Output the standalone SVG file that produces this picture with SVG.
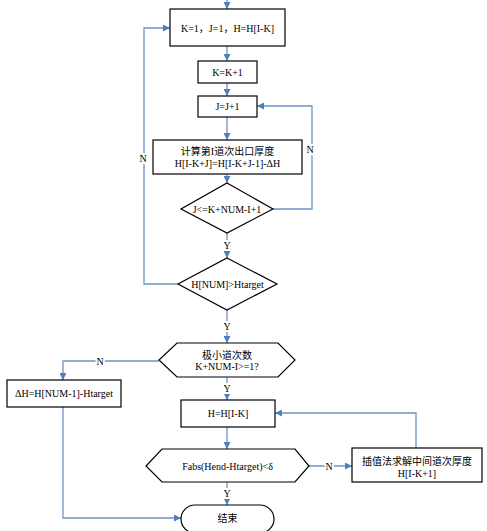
<svg xmlns="http://www.w3.org/2000/svg" width="487" height="531" viewBox="0 0 487 531">
<defs>
<marker id="ah" viewBox="0 0 10 10" refX="10" refY="5" markerWidth="7" markerHeight="7" markerUnits="userSpaceOnUse" orient="auto">
<path d="M0,0 L10,5 L0,10 z" fill="#4f7ec0"/>
</marker>
<style>
.n{fill:#fff;stroke:#000;stroke-width:1.2}
.t{font-family:"Liberation Serif","Noto Sans CJK SC",serif;font-size:10px;fill:#000;text-anchor:middle;dominant-baseline:central}
.c{fill:none;stroke:#6f93c6;stroke-width:1.3;marker-end:url(#ah)}
.l{font-family:"Liberation Serif",serif;font-size:10px;fill:#000;text-anchor:middle;dominant-baseline:central;stroke:#fff;stroke-width:4;paint-order:stroke}
</style>
</defs>
<rect width="487" height="531" fill="#fff"/>
<g id="connectors">
<path class="c" d="M227,0 V9"/>
<path class="c" d="M227,46 V61"/>
<path class="c" d="M227,83 V96"/>
<path class="c" d="M227,117 V140"/>
<path class="c" d="M227,174 V183"/>
<path class="c" d="M273,209 H312 V106 H257"/>
<path class="c" d="M227,233 V258"/>
<path class="c" d="M178,284 H144 V28 H170"/>
<path class="c" d="M227,310 V343"/>
<path class="c" d="M159,361 H63 V380"/>
<path class="c" d="M227,377 V400"/>
<path class="c" d="M227,427 V449"/>
<path class="c" d="M309,466 H352"/>
<path class="c" d="M416,448 V413 H275"/>
<path class="c" d="M227,482 V505"/>
<path class="c" d="M63,407 V518 H181"/>
<text class="l" x="310" y="149">N</text>
<text class="l" x="143" y="158">N</text>
<text class="l" x="227" y="245">Y</text>
<text class="l" x="227" y="326">Y</text>
<text class="l" x="100" y="361">N</text>
<text class="l" x="227" y="388">Y</text>
<text class="l" x="329" y="466">N</text>
<text class="l" x="227" y="493">Y</text>
</g>
<g id="init">
<rect class="n" x="170" y="9" width="115" height="37"/>
<text class="t" x="227.5" y="28">K=1，J=1，H=H[I-K]</text>
</g>
<g id="incK">
<rect class="n" x="198" y="61" width="59" height="22"/>
<text class="t" x="227.5" y="72">K=K+1</text>
</g>
<g id="incJ">
<rect class="n" x="198" y="96" width="59" height="21"/>
<text class="t" x="227.5" y="106.5">J=J+1</text>
</g>
<g id="calc">
<rect class="n" x="153" y="140" width="149" height="34"/>
<text class="t" x="227.5" y="151.5">计算第I道次出口厚度</text>
<text class="t" x="227.5" y="163.5">H[I-K+J]=H[I-K+J-1]-ΔH</text>
</g>
<g id="condJ">
<polygon class="n" points="227,183 273,209 227,233 181,209"/>
<text class="t" x="227" y="209">J&lt;=K+NUM-I+1</text>
</g>
<g id="condH">
<polygon class="n" points="227,258 277,284 227,310 178,284"/>
<text class="t" x="227.5" y="284">H[NUM]&gt;Htarget</text>
</g>
<g id="minPass">
<polygon class="n" points="177,343 278,343 295,360 278,377 177,377 159,360"/>
<text class="t" x="227" y="355">极小道次数</text>
<text class="t" x="227" y="366.5">K+NUM-I&gt;=1?</text>
</g>
<g id="deltaH">
<rect class="n" x="7" y="380" width="114" height="27"/>
<text class="t" x="64" y="393.5">ΔH=H[NUM-1]-Htarget</text>
</g>
<g id="setH">
<rect class="n" x="181" y="400" width="94" height="27"/>
<text class="t" x="228" y="413.5">H=H[I-K]</text>
</g>
<g id="condFabs">
<polygon class="n" points="162,449 295,449 309,466 295,482 162,482 146,466"/>
<text class="t" x="227.5" y="466">Fabs(Hend-Htarget)&lt;δ</text>
</g>
<g id="interp">
<rect class="n" x="352" y="448" width="130" height="34"/>
<text class="t" x="417" y="461">插值法求解中间道次厚度</text>
<text class="t" x="417" y="473">H[I-K+1]</text>
</g>
<g id="end">
<rect class="n" x="181" y="505" width="93" height="28" rx="14" ry="14"/>
<text class="t" x="227.5" y="518.5">结束</text>
</g>
</svg>
